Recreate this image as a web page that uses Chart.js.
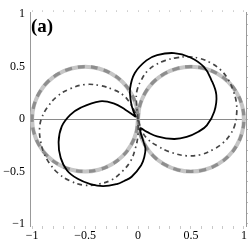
<!DOCTYPE html>
<html>
<head>
<meta charset="utf-8">
<script src="https://cdn.jsdelivr.net/npm/chart.js@4.4.0/dist/chart.umd.min.js"></script>
<style>
  html, body { margin: 0; padding: 0; background: #fff; }
  #wrap { width: 249px; height: 249px; position: relative; }
</style>
</head>
<body>
<div id="wrap"><canvas id="myChart"></canvas></div>
<script>
var tickValues = [-1, -0.9, -0.8, -0.7, -0.6, -0.5, -0.4, -0.3, -0.2, -0.1, 0,
  0.1, 0.2, 0.3, 0.4, 0.5, 0.6, 0.7, 0.8, 0.9, 1];
var labelValues = [-1, -0.5, 0, 0.5, 1];
var labelTexts = ["\u22121", "\u22120.5", "0", "0.5", "1"];
var panelLabel = "(a)";

// solid black curve, two lobes pinched near the origin
var solidCurve = [
  [-0.02, 0.02], [-0.045, 0.08], [-0.066, 0.16], [-0.075, 0.29], [-0.03, 0.44],
  [0.08, 0.56], [0.18, 0.61], [0.34, 0.63], [0.49, 0.59], [0.62, 0.5],
  [0.69, 0.38], [0.74, 0.23], [0.72, 0.07], [0.65, -0.06], [0.57, -0.12],
  [0.46, -0.17], [0.34, -0.19], [0.18, -0.165], [0.08, -0.12], [0.02, -0.09],
  [0.05, -0.21], [0.07, -0.28], [0.06, -0.36], [0.03, -0.44], [-0.06, -0.55],
  [-0.13, -0.59], [-0.2, -0.62], [-0.33, -0.64], [-0.45, -0.62], [-0.57, -0.57],
  [-0.67, -0.49], [-0.73, -0.37], [-0.75, -0.22], [-0.72, -0.07], [-0.64, 0.04],
  [-0.54, 0.11], [-0.36, 0.17], [-0.23, 0.15], [-0.12, 0.09], [-0.02, 0.02]
];

// dash-dot curve, two tilted loops touching at the origin
var dashDotCurve = [
  [0, 0], [-0.015, 0.16], [-0.01, 0.27], [0.03, 0.37], [0.09, 0.46],
  [0.17, 0.52], [0.26, 0.56], [0.36, 0.585], [0.47, 0.595], [0.58, 0.58],
  [0.68, 0.54], [0.78, 0.47], [0.85, 0.38], [0.9, 0.27], [0.93, 0.15],
  [0.93, 0.03], [0.91, -0.07], [0.87, -0.15], [0.8, -0.23], [0.71, -0.29],
  [0.59, -0.34], [0.46, -0.35], [0.32, -0.32], [0.19, -0.26], [0.09, -0.19],
  [0.03, -0.1], [0, 0],
  [-0.04, 0.09], [-0.08, 0.16], [-0.14, 0.23], [-0.23, 0.28], [-0.36, 0.32],
  [-0.5, 0.33], [-0.64, 0.29], [-0.76, 0.22], [-0.85, 0.12], [-0.91, 0.01],
  [-0.93, -0.1], [-0.92, -0.21], [-0.89, -0.32], [-0.83, -0.43], [-0.75, -0.52],
  [-0.64, -0.59], [-0.51, -0.63], [-0.37, -0.62], [-0.25, -0.58], [-0.15, -0.5],
  [-0.07, -0.4], [-0.025, -0.28], [0, -0.15], [0, 0]
];

// thick grey dashed curve, two circles touching at the origin
var grayCurve = [
  [0, 0], [0.017, -0.129], [0.067, -0.25], [0.146, -0.354], [0.25, -0.433],
  [0.371, -0.483], [0.5, -0.5], [0.629, -0.483], [0.75, -0.433], [0.854, -0.354],
  [0.933, -0.25], [0.983, -0.129], [1, 0], [0.983, 0.129], [0.933, 0.25],
  [0.854, 0.354], [0.75, 0.433], [0.629, 0.483], [0.5, 0.5], [0.371, 0.483],
  [0.25, 0.433], [0.146, 0.354], [0.067, 0.25], [0.017, 0.129], [0, 0],
  [-0.017, -0.129], [-0.067, -0.25], [-0.146, -0.354], [-0.25, -0.433],
  [-0.371, -0.483], [-0.5, -0.5], [-0.629, -0.483], [-0.75, -0.433], [-0.854, -0.354],
  [-0.933, -0.25], [-0.983, -0.129], [-1, 0], [-0.983, 0.129], [-0.933, 0.25],
  [-0.854, 0.354], [-0.75, 0.433], [-0.629, 0.483], [-0.5, 0.5], [-0.371, 0.483],
  [-0.25, 0.433], [-0.146, 0.354], [-0.067, 0.25], [-0.017, 0.129], [0, 0]
];

function toPoints(list) {
  return list.map(function (p) { return { x: p[0], y: p[1] }; });
}

function setTicks(scale) {
  scale.ticks = tickValues.map(function (v) { return { value: v }; });
}

function tickLabel(v) {
  for (var i = 0; i < labelValues.length; i++) {
    if (Math.abs(v - labelValues[i]) < 1e-6) return labelTexts[i];
  }
  return "";
}

var labelPlugin = {
  id: "panelLabel",
  afterDraw: function (chart) {
    var c = chart.ctx;
    c.save();
    c.font = "bold 19px 'Liberation Serif', serif";
    c.fillStyle = "#000";
    c.textBaseline = "alphabetic";
    c.fillText(panelLabel, chart.chartArea.left + 1, chart.chartArea.top + 19.5);
    c.restore();
  }
};

Chart.defaults.font.family = "'Liberation Serif', 'DejaVu Serif', serif";
Chart.defaults.color = "#000";

var ctx = document.getElementById("myChart");
var line = { showLine: true, pointRadius: 0, pointHoverRadius: 0, fill: false, tension: 0.4 };

var data = {
  datasets: [
    Object.assign({ data: toPoints(solidCurve), borderColor: "#000", borderWidth: 1.8 }, line),
    Object.assign({ data: toPoints(dashDotCurve), borderColor: "#454545", borderWidth: 1.7,
      borderDash: [5, 3.5, 1.5, 3.5] }, line),
    Object.assign({ data: toPoints(grayCurve), borderColor: "#8e8e8e", borderWidth: 3.2,
      borderDash: [7, 6] }, line),
    Object.assign({ data: toPoints(grayCurve), borderColor: "#c6c6c6", borderWidth: 4 }, line)
  ]
};

var config = {
  type: "scatter",
  data: data,
  options: {
    responsive: true,
    maintainAspectRatio: false,
    animation: false,
    layout: { padding: 0 },
    plugins: { legend: { display: false }, tooltip: { enabled: false } },
    scales: {
      x: {
        type: "linear", position: "bottom", min: -1.02, max: 1.02,
        afterBuildTicks: setTicks,
        afterFit: function (s) { s.height = 23; },
        ticks: { autoSkip: false, maxRotation: 0, padding: 0, font: { size: 12 }, callback: tickLabel },
        grid: { drawOnChartArea: false, drawTicks: true, tickLength: 3, color: "#c8c8c8" },
        border: { display: false }
      },
      x2: {
        type: "linear", position: "top", min: -1.02, max: 1.02,
        afterBuildTicks: setTicks,
        afterFit: function (s) { s.height = 10; },
        ticks: { display: false },
        grid: { drawOnChartArea: false, drawTicks: true, tickLength: 2, color: "#d0d0d0" },
        border: { display: false }
      },
      y: {
        type: "linear", position: "left", min: -1.02, max: 1.02,
        afterBuildTicks: setTicks,
        afterFit: function (s) { s.width = 30; },
        ticks: { autoSkip: false, padding: 5, font: { size: 12 }, callback: tickLabel },
        grid: {
          drawTicks: false,
          color: function (c) {
            return c.tick && Math.abs(c.tick.value) < 1e-6 ? "#8a8a8a" : "rgba(0,0,0,0)";
          }
        },
        border: { display: true, color: "#999" }
      },
      y2: {
        type: "linear", position: "right", min: -1.02, max: 1.02,
        afterBuildTicks: setTicks,
        afterFit: function (s) { s.width = 3; },
        ticks: { display: false },
        grid: { drawOnChartArea: false, drawTicks: true, tickLength: 2, color: "#bbb" },
        border: { display: true, color: "#999" }
      }
    }
  },
  plugins: [labelPlugin]
};

var myChart = new Chart(ctx, config);
</script>
</body>
</html>
